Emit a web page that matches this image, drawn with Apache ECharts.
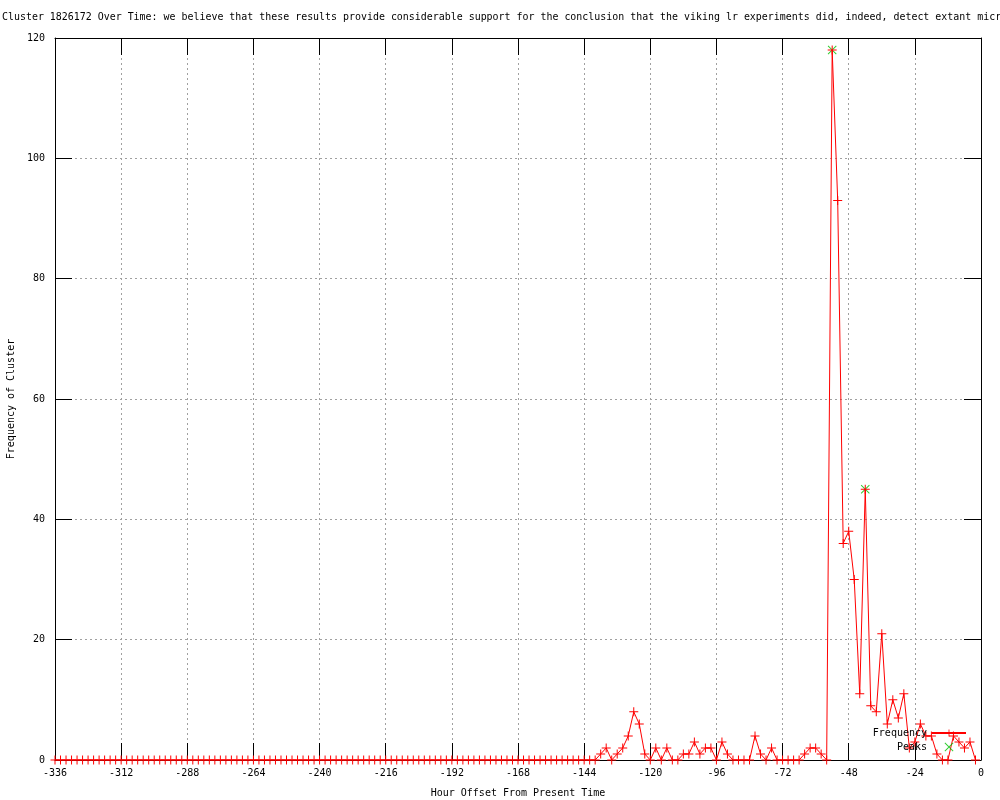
<!DOCTYPE html>
<html>
<head>
<meta charset="utf-8">
<script src="https://cdn.jsdelivr.net/npm/echarts@6/dist/echarts.min.js"></script>
<style>html,body{margin:0;padding:0;background:#fff}#c{width:1000px;height:800px}</style>
</head>
<body>
<div id="c"></div>
<script>
const titleText = "Cluster 1826172 Over Time: we believe that these results provide considerable support for the conclusion that the viking lr experiments did, indeed, detect extant microbial life on mars";
const xAxisName = "Hour Offset From Present Time";
const yAxisName = "Frequency of Cluster";

const hours = [
  -336,-334,-332,-330,-328,-326,-324,-322,-320,-318,-316,-314,-312,-310,-308,-306,-304,-302,-300,-298,
  -296,-294,-292,-290,-288,-286,-284,-282,-280,-278,-276,-274,-272,-270,-268,-266,-264,-262,-260,-258,
  -256,-254,-252,-250,-248,-246,-244,-242,-240,-238,-236,-234,-232,-230,-228,-226,-224,-222,-220,-218,
  -216,-214,-212,-210,-208,-206,-204,-202,-200,-198,-196,-194,-192,-190,-188,-186,-184,-182,-180,-178,
  -176,-174,-172,-170,-168,-166,-164,-162,-160,-158,-156,-154,-152,-150,-148,-146,-144,-142,-140,-138,
  -136,-134,-132,-130,-128,-126,-124,-122,-120,-118,-116,-114,-112,-110,-108,-106,-104,-102,-100,-98,
  -96,-94,-92,-90,-88,-86,-84,-82,-80,-78,-76,-74,-72,-70,-68,-66,-64,-62,-60,-58,
  -56,-54,-52,-50,-48,-46,-44,-42,-40,-38,-36,-34,-32,-30,-28,-26,-24,-22,-20,-18,
  -16,-14,-12,-10,-8,-6,-4,-2
];

const frequency = [
  0,0,0,0,0,0,0,0,0,0,0,0,0,0,0,0,0,0,0,0,
  0,0,0,0,0,0,0,0,0,0,0,0,0,0,0,0,0,0,0,0,
  0,0,0,0,0,0,0,0,0,0,0,0,0,0,0,0,0,0,0,0,
  0,0,0,0,0,0,0,0,0,0,0,0,0,0,0,0,0,0,0,0,
  0,0,0,0,0,0,0,0,0,0,0,0,0,0,0,0,0,0,0,1,
  2,0,1,2,4,8,6,1,0,2,0,2,0,0,1,1,3,1,2,2,
  0,3,1,0,0,0,0,4,1,0,2,0,0,0,0,0,1,2,2,1,
  0,118,93,36,38,30,11,45,9,8,21,6,10,7,11,2,3,6,4,4,
  1,0,0,4,3,2,3,0
];

const peakHours = [-54, -42];
const peakValues = [118, 45];

const xTicks = { min: -336, max: 0, interval: 24 };
const yTicks = { min: 0, max: 120, interval: 20 };

const FONT = "DejaVu Sans Mono";
const plusPath = 'path://M0,4H9V5H0Z M4,0H5V9H4Z';
const crossPath = 'path://M0.7,0 L4.5,3.8 L8.3,0 L9,0.7 L5.2,4.5 L9,8.3 L8.3,9 L4.5,5.2 L0.7,9 L0,8.3 L3.8,4.5 L0,0.7Z';

const freqData = hours.map((h, i) => [h, frequency[i]]);
const peakData = peakHours.map((h, i) => [h, peakValues[i]]);

const tickStyle = { inside: true, length: 17, lineStyle: { color: '#000', width: 1 } };
const splitStyle = { show: true, lineStyle: { color: '#a0a0a0', type: [2, 3], width: 1 } };

const chart = echarts.init(document.getElementById('c'), null, { renderer: 'canvas' });
chart.setOption({
  animation: false,
  backgroundColor: '#fff',
  title: {
    text: titleText,
    left: 2, top: 12, padding: 0,
    textStyle: { fontFamily: FONT, fontSize: 9.95, fontWeight: 'normal', color: '#000' }
  },
  legend: {
    orient: 'vertical',
    right: 28, top: 723,
    align: 'right',
    itemWidth: 34, itemHeight: 9, itemGap: 4,
    textStyle: { fontFamily: FONT, fontSize: 10, color: '#000' },
    data: [
      { name: 'Frequency' },
      { name: 'Peaks', icon: crossPath }
    ]
  },
  grid: { left: 55, right: 19, top: 38, bottom: 40, containLabel: false, outerBoundsMode: 'none' },
  xAxis: [
    {
      type: 'value', min: xTicks.min, max: xTicks.max, interval: xTicks.interval,
      position: 'bottom',
      name: xAxisName, nameLocation: 'middle', nameGap: 28,
      nameTextStyle: { fontFamily: FONT, fontSize: 10, color: '#000' },
      axisLine: { show: true, onZero: false, lineStyle: { color: '#000', width: 1 } },
      axisTick: tickStyle,
      axisLabel: { fontFamily: FONT, fontSize: 10, color: '#000', margin: 8 },
      splitLine: splitStyle
    },
    {
      type: 'value', min: xTicks.min, max: xTicks.max, interval: xTicks.interval,
      position: 'top',
      axisLine: { show: true, onZero: false, lineStyle: { color: '#000', width: 1 } },
      axisTick: tickStyle,
      axisLabel: { show: false },
      splitLine: { show: false }
    }
  ],
  yAxis: [
    {
      type: 'value', min: yTicks.min, max: yTicks.max, interval: yTicks.interval,
      position: 'left',
      name: yAxisName, nameLocation: 'middle', nameGap: 36,
      nameTextStyle: { fontFamily: FONT, fontSize: 10, color: '#000' },
      axisLine: { show: true, onZero: false, lineStyle: { color: '#000', width: 1 } },
      axisTick: tickStyle,
      axisLabel: { fontFamily: FONT, fontSize: 10, color: '#000', margin: 10 },
      splitLine: splitStyle
    },
    {
      type: 'value', min: yTicks.min, max: yTicks.max, interval: yTicks.interval,
      position: 'right',
      axisLine: { show: true, onZero: false, lineStyle: { color: '#000', width: 1 } },
      axisTick: tickStyle,
      axisLabel: { show: false },
      splitLine: { show: false }
    }
  ],
  series: [
    {
      name: 'Peaks',
      type: 'scatter',
      data: peakData,
      symbol: crossPath,
      symbolSize: 9,
      itemStyle: { color: '#00c000' },
      z: 2
    },
    {
      name: 'Frequency',
      type: 'line',
      data: freqData,
      symbol: plusPath,
      symbolSize: 9,
      showAllSymbol: true,
      sampling: null,
      lineStyle: { color: '#ff0000', width: 1 },
      itemStyle: { color: '#ff0000' },
      z: 3
    }
  ]
});
</script>
</body>
</html>
